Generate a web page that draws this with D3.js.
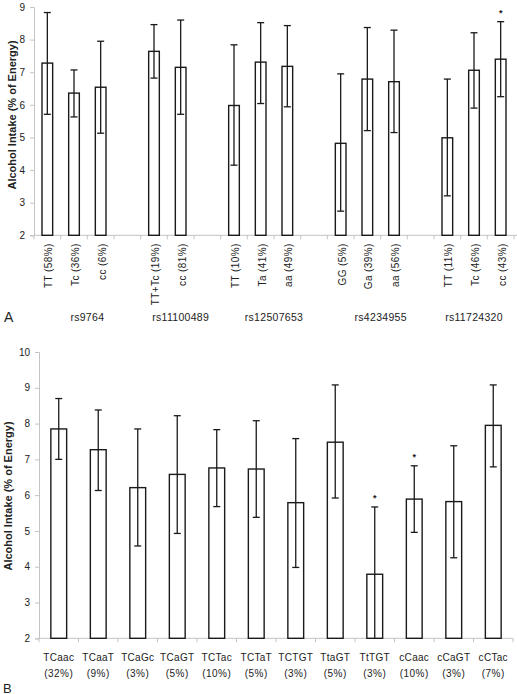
<!DOCTYPE html>
<html>
<head>
<meta charset="utf-8">
<script src="https://cdn.jsdelivr.net/npm/d3@7/dist/d3.min.js"></script>
<style>
  html, body { margin: 0; padding: 0; background: #fff; }
  svg { display: block; font-family: "Liberation Sans", Arial, sans-serif; }
</style>
</head>
<body>
<script>
// ---------- Panel A data ----------
const groupNames = ["rs9764", "rs11100489", "rs12507653", "rs4234955", "rs11724320"];
const genotypeLabels = ["TT (58%)", "Tc (36%)", "cc (6%)", "TT+Tc (19%)", "cc (81%)",
  "TT (10%)", "Ta (41%)", "aa (49%)", "GG (5%)", "Ga (39%)", "aa (56%)",
  "TT (11%)", "Tc (46%)", "cc (43%)"];
const genotypeGroup = [0, 0, 0, 1, 1, 2, 2, 2, 3, 3, 3, 4, 4, 4];
const topMeans = [7.28, 6.36, 6.54, 7.64, 7.15, 5.98, 7.31, 7.18, 4.82, 6.79, 6.71, 4.99, 7.06, 7.40];
const topUpper = [8.83, 7.07, 7.95, 8.46, 8.60, 7.84, 8.52, 8.43, 6.95, 8.37, 8.29, 6.79, 8.21, 8.55];
const topLower = [5.71, 5.63, 5.13, 6.82, 5.71, 4.15, 6.04, 5.94, 2.74, 5.21, 5.15, 3.21, 5.90, 6.25];
const topSig = [0, 0, 0, 0, 0, 0, 0, 0, 0, 0, 0, 0, 0, 1];
const topTicks = [2, 3, 4, 5, 6, 7, 8, 9];

// ---------- Panel B data ----------
const hapLabels = ["TCaac", "TCaaT", "TCaGc", "TCaGT", "TCTac", "TCTaT", "TCTGT", "TtaGT", "TtTGT", "cCaac", "cCaGT", "cCTac"];
const hapFreq = ["(32%)", "(9%)", "(3%)", "(5%)", "(10%)", "(5%)", "(3%)", "(5%)", "(3%)", "(10%)", "(3%)", "(7%)"];
const botMeans = [7.85, 7.27, 6.21, 6.58, 6.76, 6.73, 5.79, 7.48, 3.79, 5.89, 5.82, 7.95];
const botUpper = [8.70, 8.38, 7.85, 8.22, 7.83, 8.08, 7.58, 9.08, 5.67, 6.82, 7.38, 9.08];
const botLower = [7.00, 6.13, 4.58, 4.93, 5.68, 5.38, 3.98, 5.92, 1.91, 4.96, 4.25, 6.79];
const botSig = [0, 0, 0, 0, 0, 0, 0, 0, 1, 1, 0, 0];
const botTicks = [2, 3, 4, 5, 6, 7, 8, 9, 10];

const W = 517, H = 694;
const svg = d3.select("body").append("svg").attr("width", W).attr("height", H);

const AXIS = "#c4c4c4", INK = "#1a1a1a", TXT = "#222";

function drawPanel(cfg) {
  const g = svg.append("g");
  const x = d3.scaleBand().domain(d3.range(cfg.slots)).range(cfg.xRange).padding(0);
  const y = d3.scaleLinear().domain(cfg.yDomain).range(cfg.yRange);
  const bw = x.bandwidth() * 0.4;

  // y axis
  const yAxis = d3.axisLeft(y).tickValues(cfg.yTicks).tickSize(4).tickPadding(5).tickFormat(d3.format("d"));
  const ya = g.append("g").attr("transform", `translate(${cfg.xRange[0]},0)`).call(yAxis);
  ya.select(".domain").attr("stroke", AXIS);
  ya.selectAll(".tick line").attr("stroke", AXIS);
  ya.selectAll(".tick text").attr("fill", TXT).style("font-size", "10px").style("font-family", "Liberation Sans, Arial, sans-serif");

  // x axis (ticks at band boundaries)
  const bounds = d3.range(cfg.slots + 1).map(i => i === cfg.slots ? cfg.xRange[1] : x(i));
  const y0 = y(cfg.yDomain[0]);
  g.append("line").attr("x1", cfg.xRange[0]).attr("x2", cfg.xEnd).attr("y1", y0).attr("y2", y0)
    .attr("stroke", AXIS).attr("stroke-width", 1);
  g.selectAll("line.xt").data(bounds).join("line").attr("class", "xt")
    .attr("x1", d => d).attr("x2", d => d).attr("y1", y0).attr("y2", y0 + 4)
    .attr("stroke", AXIS);

  const cx = i => x(cfg.slotOf[i]) + x.bandwidth() / 2;

  // bars
  g.selectAll("rect.bar").data(cfg.means).join("rect").attr("class", "bar")
    .attr("x", (d, i) => cx(i) - bw / 2)
    .attr("width", bw)
    .attr("y", d => y(d))
    .attr("height", d => y0 - y(d))
    .attr("fill", "#fff").attr("stroke", INK).attr("stroke-width", 1.4);

  // error bars
  const capW = 3.5;
  cfg.means.forEach((m, i) => {
    const up = cfg.upper[i], lo = cfg.lower[i];
    const loC = Math.max(lo, cfg.yDomain[0]);
    g.append("line").attr("x1", cx(i)).attr("x2", cx(i)).attr("y1", y(up)).attr("y2", y(loC))
      .attr("stroke", INK).attr("stroke-width", 1.3);
    g.append("line").attr("x1", cx(i) - capW).attr("x2", cx(i) + capW).attr("y1", y(up)).attr("y2", y(up))
      .attr("stroke", INK).attr("stroke-width", 1.3);
    if (lo >= cfg.yDomain[0]) {
      g.append("line").attr("x1", cx(i) - capW).attr("x2", cx(i) + capW).attr("y1", y(lo)).attr("y2", y(lo))
        .attr("stroke", INK).attr("stroke-width", 1.3);
    }
    if (cfg.sig[i]) {
      g.append("text").attr("x", cx(i)).attr("y", y(up) - 6).attr("text-anchor", "middle")
        .style("font-size", "9px").style("font-weight", "bold").attr("fill", INK).text("*");
    }
  });

  // y label
  g.append("text")
    .attr("transform", `translate(${cfg.yLabelX},${cfg.yLabelY}) rotate(-90)`)
    .attr("text-anchor", "middle").attr("dy", "0.35em")
    .style("font-size", "11px").style("font-weight", "bold").attr("fill", TXT)
    .text("Alcohol Intake (% of Energy)");

  return { x, y, cx, y0 };
}

// ---------- Panel A ----------
const slotOfTop = [];
const groupStart = [];
{
  let s = 0;
  groupNames.forEach((gname, gi) => {
    groupStart.push(s);
    genotypeGroup.forEach((gg, i) => { if (gg === gi) { slotOfTop[i] = s; s++; } });
    if (gi < groupNames.length - 1) s++; // gap slot
  });
  groupStart.push(s);
}
const topSlots = groupStart[groupStart.length - 1];

const A = drawPanel({
  slots: topSlots, xRange: [34, 514], xEnd: 517, yDomain: [2, 9], yRange: [235.3, 7],
  yTicks: topTicks, slotOf: slotOfTop, means: topMeans, upper: topUpper, lower: topLower, sig: topSig,
  yLabelX: 12.5, yLabelY: 115
});

svg.append("g").selectAll("text").data(genotypeLabels).join("text")
  .attr("transform", (d, i) => `translate(${A.cx(i) + 1.5},${A.y0 + 8}) rotate(-90)`)
  .attr("text-anchor", "end").attr("dy", "0.35em")
  .style("font-size", "10px").style("letter-spacing", "0.4px").attr("fill", TXT)
  .text(d => d);

svg.append("g").selectAll("text").data(groupNames).join("text")
  .attr("x", (d, gi) => {
    const a = A.x.range()[0] + groupStart[gi] * A.x.bandwidth();
    const b = A.x.range()[0] + groupStart[gi + 1] * A.x.bandwidth();
    return (a + b) / 2;
  })
  .attr("y", 320.5).attr("text-anchor", "middle")
  .style("font-size", "10.5px").style("letter-spacing", "0.3px").attr("fill", TXT)
  .text(d => d);

svg.append("text").attr("x", 4).attr("y", 321.5).style("font-size", "14px").attr("fill", TXT).text("A");

// ---------- Panel B ----------
const B = drawPanel({
  slots: hapLabels.length, xRange: [39, 513], xEnd: 513, yDomain: [2, 10], yRange: [638.3, 352],
  yTicks: botTicks, slotOf: d3.range(hapLabels.length), means: botMeans, upper: botUpper, lower: botLower, sig: botSig,
  yLabelX: 8, yLabelY: 496
});

const lab = svg.append("g").selectAll("g").data(hapLabels).join("g");
lab.append("text").attr("x", (d, i) => B.cx(i)).attr("y", 660.5).attr("text-anchor", "middle")
  .style("font-size", "10px").style("letter-spacing", "0.3px").attr("fill", TXT).text(d => d);
lab.append("text").attr("x", (d, i) => B.cx(i)).attr("y", 677).attr("text-anchor", "middle")
  .style("font-size", "10px").style("letter-spacing", "0.5px").attr("fill", TXT).text((d, i) => hapFreq[i]);

svg.append("text").attr("x", 3).attr("y", 692.5).style("font-size", "13px").attr("fill", TXT).text("B");
</script>
</body>
</html>
